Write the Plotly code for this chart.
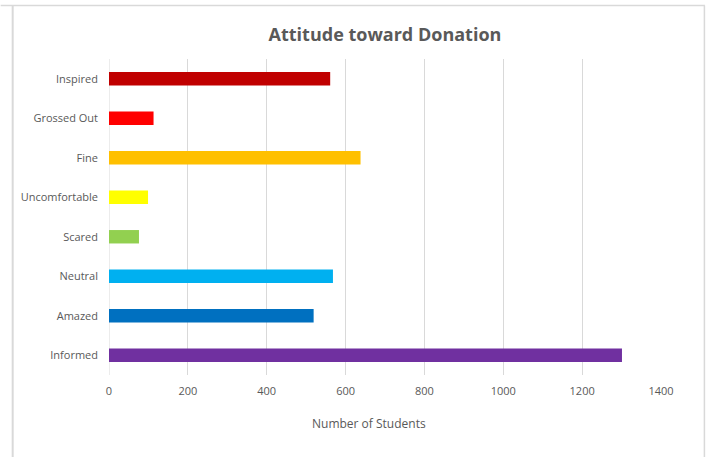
import plotly.graph_objects as go

categories = ["Informed", "Amazed", "Neutral", "Scared", "Uncomfortable", "Fine", "Grossed Out", "Inspired"]
students = [1301, 519, 568, 76, 99, 638, 113, 561]
colors = ["#7030A0", "#0070C0", "#00B0F0", "#92D050", "#FFFF00", "#FFC000", "#FF0000", "#C00000"]
x_ticks = [0, 200, 400, 600, 800, 1000, 1200, 1400]

W, H = 709, 457
ml, mr, mt, mb = 108.5, 47.5, 59, 82
pw, ph = W - ml - mr, H - mt - mb


def px(x):
    return (x - ml) / pw


def py(y):
    return 1 - (y - mt) / ph


FONT = "Open Sans, Liberation Sans, sans-serif"
GRAY = "#595959"
BORDER = "#D9D9D9"

fig = go.Figure(go.Bar(
    x=students, y=categories, orientation="h",
    marker=dict(color=colors, line=dict(width=0)),
    width=0.34, hoverinfo="x+y",
))

fig.update_layout(
    width=W, height=H,
    margin=dict(l=ml, r=mr, t=mt, b=mb, pad=0),
    paper_bgcolor="white", plot_bgcolor="white",
    font=dict(family=FONT, color=GRAY, size=11),
    title=dict(text="<b>Attitude toward Donation</b>", x=(ml + pw / 2) / W, xanchor="center",
               y=1 - 35 / H, yanchor="middle",
               font=dict(size=18, color=GRAY, family=FONT)),
    showlegend=False,
    xaxis=dict(range=[0, 1400], tickvals=x_ticks, ticktext=[str(v) for v in x_ticks],
               showgrid=True, gridcolor=BORDER, gridwidth=1, zeroline=False,
               showline=False, ticks="", ticklabelstandoff=8,
               tickfont=dict(size=11, color=GRAY), fixedrange=True),
    yaxis=dict(categoryorder="array", categoryarray=categories, range=[-0.5, 7.5],
               showgrid=False, zeroline=False, showline=False, ticks="", ticklabelstandoff=10,
               tickfont=dict(size=11, color=GRAY), fixedrange=True),
    annotations=[
        dict(text="Number of Students", xref="paper", yref="paper", x=px(368.5), y=py(423),
             xanchor="center", yanchor="middle", showarrow=False,
             font=dict(size=12, color=GRAY, family=FONT)),
    ],
    shapes=[
        dict(type="line", xref="x", yref="paper", x0=0, x1=0, y0=0, y1=1,
             line=dict(color=BORDER, width=1), layer="below"),
        dict(type="line", xref="paper", yref="paper", x0=px(0), x1=px(705.5), y0=py(5.5), y1=py(5.5),
             line=dict(color=BORDER, width=1.5), layer="below"),
        dict(type="line", xref="paper", yref="paper", x0=px(12), x1=px(12), y0=py(5.5), y1=py(H + 5),
             line=dict(color=BORDER, width=2), layer="below"),
        dict(type="line", xref="paper", yref="paper", x0=px(705), x1=px(705), y0=py(5.5), y1=py(H + 5),
             line=dict(color=BORDER, width=1.5), layer="below"),
    ],
)

fig.write_html("out.html", config={"displayModeBar": False},
               post_script="document.body.style.margin='0';document.body.style.padding='0';")
